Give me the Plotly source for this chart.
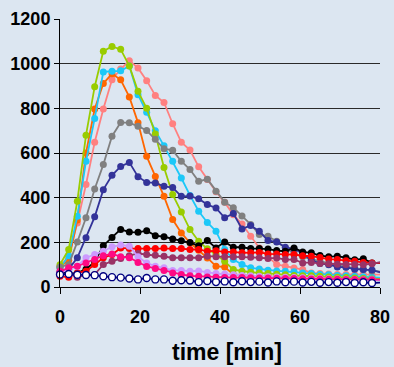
import plotly.graph_objects as go

# sample times [min]
time_min = [0, 2.17, 4.33, 6.5, 8.67, 10.83, 13, 15.17, 17.33, 19.5, 21.67, 23.83, 26, 28.17,
            30.33, 32.5, 34.67, 36.83, 39, 41.17, 43.33, 45.5, 47.67, 49.83, 52, 54.17, 56.33,
            58.5, 60.67, 62.83, 65, 67.17, 69.33, 71.5, 73.67, 75.83, 78, 80.17]

salmon = [90, 138, 287, 459, 648, 797, 928, 976, 1013, 981, 924, 858, 826, 731, 648, 613, 538, 481,
          427, 379, 324, 282, 227, 175, 135, 101, 93, 85, 78, 63, 60, 58, 56, 56, 55, 56, 55, 55]
green = [100, 168, 384, 680, 897, 1056, 1077, 1064, 990, 876, 800, 685, 535, 414, 336, 257, 205, 171,
         145, 115, 78, 71, 66, 63, 60, 57, 55, 52, 50, 50, 48, 45, 44, 42, 40, 38, 36, 35]
cyan = [85, 140, 317, 563, 755, 963, 966, 968, 990, 861, 782, 700, 632, 563, 488, 410, 339, 289,
        250, 168, 123, 101, 86, 81, 75, 72, 70, 68, 63, 60, 56, 55, 52, 50, 48, 46, 44, 42]
orange = [90, 120, 300, 600, 797, 911, 955, 928, 851, 736, 585, 495, 406, 302, 242, 198, 165, 130,
          93, 89, 56, 52, 50, 48, 47, 46, 45, 44, 44, 43, 42, 42, 41, 40, 40, 39, 38, 38]
grey = [90, 100, 202, 310, 439, 548, 675, 737, 735, 720, 701, 662, 619, 612, 563, 526, 473, 483,
        429, 380, 355, 318, 280, 235, 227, 205, 175, 150, 135, 125, 115, 105, 98, 90, 85, 78, 72, 68]
blue = [65, 80, 131, 220, 314, 436, 500, 540, 558, 494, 468, 466, 451, 445, 406, 407, 395, 369,
        354, 310, 329, 260, 275, 250, 208, 202, 178, 170, 150, 120, 105, 100, 90, 88, 80, 78, 76, 65]
black = [66, 60, 62, 80, 112, 185, 222, 258, 246, 245, 252, 230, 225, 215, 207, 199, 185, 208,
         175, 202, 178, 178, 172, 172, 170, 163, 160, 175, 157, 153, 141, 135, 138, 131, 122, 126, 108, 108]
red = [48, 44, 63, 71, 101, 131, 145, 175, 172, 172, 172, 172, 175, 172, 172, 168, 168, 160,
       162, 157, 157, 153, 153, 155, 148, 148, 145, 145, 140, 138, 132, 125, 123, 118, 115, 110, 108, 108]
maroon = [56, 59, 44, 53, 56, 101, 115, 128, 140, 150, 145, 142, 138, 131, 131, 131, 131, 138,
          135, 135, 135, 135, 133, 131, 128, 130, 123, 123, 108, 110, 105, 104, 102, 101, 101, 100, 104, 112]
lavender = [63, 78, 93, 131, 145, 160, 180, 188, 183, 135, 108, 93, 86, 74, 74, 71, 72, 65,
            60, 58, 55, 52, 50, 48, 46, 45, 44, 42, 41, 40, 38, 37, 36, 35, 34, 33, 32, 31]
pink = [71, 86, 93, 108, 123, 140, 148, 136, 131, 110, 92, 83, 74, 63, 56, 50, 48, 45,
        44, 43, 42, 42, 41, 40, 40, 39, 38, 38, 37, 36, 36, 35, 35, 34, 34, 33, 33, 33]
navy_open = [56, 58, 55, 54, 53, 48, 44, 42, 38, 34, 40, 34, 34, 28, 30, 29, 22, 27,
             22, 25, 21, 26, 22, 24, 20, 25, 21, 24, 20, 23, 19, 22, 19, 22, 18, 21, 18, 20]

series = [
    ("S1", salmon, "#FF8080", None),
    ("S2", orange, "#FF6600", None),
    ("S3", cyan, "#1CC8F8", None),
    ("S4", green, "#99CC00", None),
    ("S5", grey, "#808080", None),
    ("S6", blue, "#333399", None),
    ("S7", black, "#000000", None),
    ("S8", red, "#FF0000", None),
    ("S9", maroon, "#993366", None),
    ("S10", lavender, "#CC99FF", None),
    ("S11", pink, "#FF0A84", None),
    ("S12", navy_open, "#000080", "#FFFFFF"),
]

BG = "#DCE6F1"
fig = go.Figure()
for name, vals, col, fill in series:
    fig.add_trace(go.Scatter(
        x=time_min, y=vals, mode="lines+markers", name=name,
        line=dict(color=col, width=1.8),
        marker=dict(size=7, color=fill if fill else col,
                    line=dict(color=col, width=1.4 if fill else 0)),
        cliponaxis=False,
    ))

tickfont = dict(family="Liberation Sans, Arial", size=18, color="black", weight="bold")
fig.update_layout(
    width=394, height=367,
    margin=dict(l=60, r=14, t=19, b=80, autoexpand=False),
    paper_bgcolor=BG, plot_bgcolor=BG,
    showlegend=False,
    xaxis=dict(range=[0, 80], tickvals=[0, 20, 40, 60, 80], showgrid=False, zeroline=False,
               showline=True, linecolor="black", linewidth=1, automargin=False,
               ticks="outside", ticklen=6, tickcolor="black", tickwidth=1,
               tickfont=tickfont, ticklabelstandoff=7),
    yaxis=dict(range=[0, 1200], tickvals=[0, 200, 400, 600, 800, 1000, 1200],
               showgrid=True, gridcolor="#2a2a2a", gridwidth=1, zeroline=False,
               showline=True, linecolor="black", linewidth=1, automargin=False,
               ticks="outside", ticklen=5, tickcolor="black", tickwidth=1,
               tickfont=tickfont),
    annotations=[dict(
        text="time [min]", xref="paper", yref="paper",
        x=(170 - 60) / 320, y=-(352 - 287.5) / 268, xanchor="left", yanchor="middle",
        showarrow=False,
        font=dict(family="Liberation Sans, Arial", size=23, color="black", weight="bold"),
    )],
)

fig.write_html("out.html", config={"displayModeBar": False},
               post_script="document.body.style.margin='0';document.body.style.padding='0';"
                           "document.body.style.overflow='hidden';")
